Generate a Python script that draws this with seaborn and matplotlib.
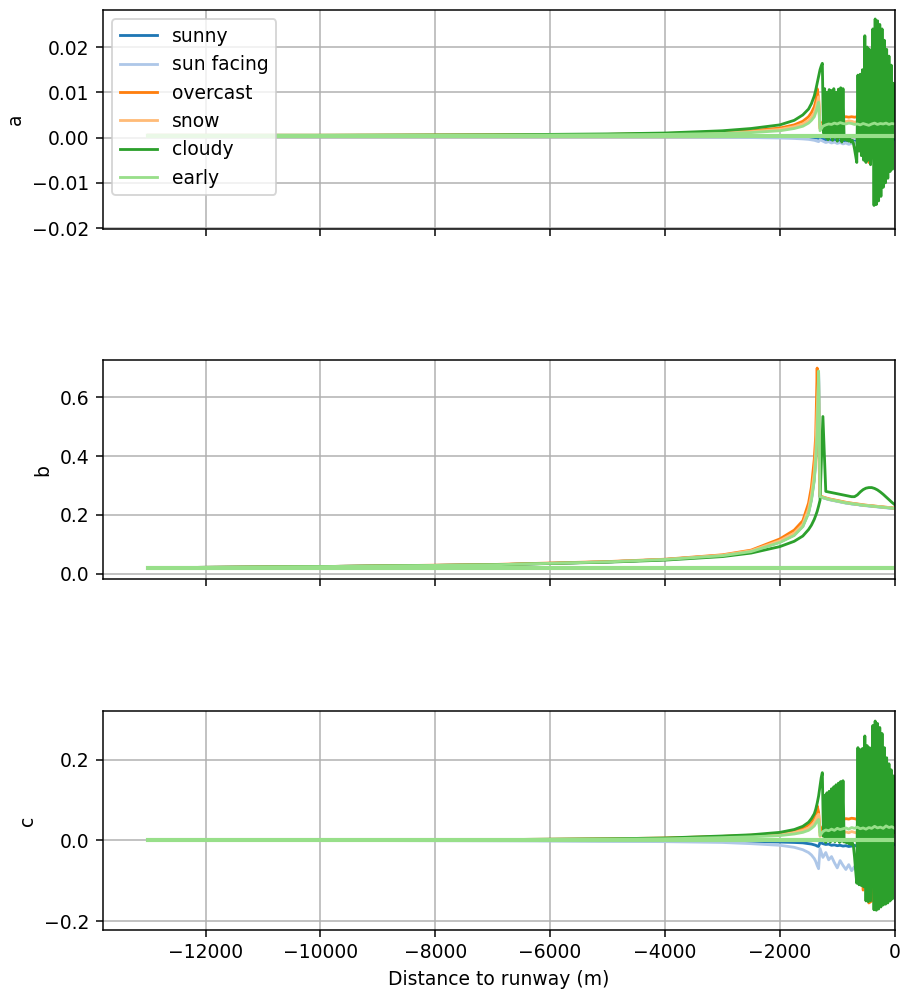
import numpy as np
import pandas as pd
import seaborn as sb
import matplotlib
matplotlib.use("Agg")
import matplotlib.pyplot as plt

scenarios = ["sunny", "sun facing", "overcast", "snow", "cloudy", "early"]
colors = sb.color_palette("tab20", 6)

# distance grid (m): coarse approach part, then 50 m steps over the last 1300 m
x_main = [-13000, -10000, -7000, -5000, -4000, -3000, -2500, -2000, -1750, -1600,
          -1500, -1450, -1400, -1375, -1350, -1325,
          -1300, -1250, -1200, -1150, -1100, -1050, -1000, -950, -900, -850,
          -800, -750, -700, -650, -600, -550, -500, -450, -400, -350,
          -300, -250, -200, -150, -100, -50, 0]
# finer grid for the cloudy oscillations near the runway
x_burst = list(range(-1300, 1, 20))
x_base = [-13000, 0]

# ---- panel a ----
a_sunny = [0.0004, 0.0004, 0.0004, 0.0004, 0.0004, 0.0003, 0.0003, 0.0002, 0.0002, 0.0001,
           0.0001, 0.0000, 0.0000, -0.0001, -0.0001, -0.0002,
           -0.0003, -0.0004, -0.0005, -0.0004, -0.0006, -0.0005, -0.0006, -0.0007, -0.0006, -0.0008,
           -0.0007, -0.0006, -0.0008, -0.0007, -0.0009, -0.0008, -0.0010, -0.0009, -0.0008, -0.0010,
           -0.0009, -0.0008, -0.0009, -0.0007, -0.0008, -0.0006, -0.0005]
a_sunfacing = [0.0004, 0.0004, 0.0003, 0.0003, 0.0002, 0.0001, 0.0000, -0.0001, -0.0002, -0.0003,
               -0.0004, -0.0005, -0.0006, -0.0007, -0.0008, -0.0009,
               -0.0005, -0.0008, -0.0011, -0.0009, -0.0012, -0.0010, -0.0013, -0.0011, -0.0014, -0.0012,
               -0.0015, -0.0013, -0.0011, -0.0014, -0.0012, -0.0015, -0.0013, -0.0016, -0.0012, -0.0015,
               -0.0013, -0.0016, -0.0014, -0.0012, -0.0015, -0.0013, -0.0010]
a_overcast = [0.0005, 0.0005, 0.0006, 0.0007, 0.0009, 0.0012, 0.0015, 0.0021, 0.0028, 0.0036,
              0.0046, 0.0055, 0.0068, 0.0080, 0.0108, 0.0085,
              0.0020, 0.0035, 0.0030, 0.0038, 0.0032, 0.0040, 0.0036, 0.0042, 0.0045, 0.0046,
              0.0045, 0.0046, 0.0045, 0.0046, 0.0044, 0.0044, 0.0030, -0.0055, -0.0045, 0.0010,
              0.0008, 0.0006, 0.0005, 0.0006, 0.0004, 0.0005, 0.0004]
a_snow = [0.0005, 0.0005, 0.0005, 0.0006, 0.0008, 0.0010, 0.0013, 0.0018, 0.0024, 0.0030,
          0.0038, 0.0045, 0.0055, 0.0065, 0.0078, 0.0090,
          0.0025, 0.0030, 0.0028, 0.0032, 0.0030, 0.0033, 0.0031, 0.0034, 0.0036, 0.0035,
          0.0037, 0.0036, 0.0034, 0.0035, 0.0033, 0.0030, 0.0025, 0.0020, 0.0028, 0.0030,
          0.0029, 0.0031, 0.0030, 0.0029, 0.0031, 0.0030, 0.0029]
a_early = [0.0005, 0.0005, 0.0005, 0.0006, 0.0007, 0.0009, 0.0011, 0.0015, 0.0020, 0.0025,
           0.0032, 0.0038, 0.0046, 0.0055, 0.0066, 0.0078,
           0.0015, 0.0025, 0.0028, 0.0030, 0.0029, 0.0032, 0.0030, 0.0033, 0.0031, 0.0030,
           0.0032, 0.0031, 0.0029, 0.0030, 0.0028, 0.0031, 0.0029, 0.0027, 0.0030, 0.0032,
           0.0029, 0.0031, 0.0030, 0.0032, 0.0029, 0.0031, 0.0030]
a_cloudy_far = [0.0005, 0.0005, 0.0006, 0.0008, 0.0010, 0.0015, 0.0020, 0.0028, 0.0038, 0.0050,
                0.0063, 0.0075, 0.0092, 0.0105, 0.0120, 0.0135]
a_cloudy_burst = [0.0150, 0.0158, 0.0164, 0.0010, 0.0108, 0.0000, 0.0100, -0.0005, 0.0106, 0.0002,
                  0.0104, -0.0006, 0.0108, 0.0001, 0.0100, -0.0008, 0.0107, 0.0000, 0.0110, -0.0010,
                  0.0108, -0.0004, 0.0002, -0.0006, 0.0000, -0.0008, -0.0003, -0.0010, -0.0006, -0.0012,
                  -0.0025, -0.0040, -0.0055, 0.0138, -0.0030, 0.0140, -0.0040, 0.0150, -0.0050, 0.0225,
                  -0.0055, 0.0200, -0.0050, 0.0195, -0.0060, 0.0010, 0.0240, -0.0150, 0.0262, -0.0148,
                  0.0258, -0.0140, 0.0250, -0.0130, 0.0240, -0.0110, 0.0215, -0.0100, 0.0195, -0.0090,
                  0.0180, -0.0075, 0.0160, -0.0070, 0.0120, 0.0030]
a_base = [0.0003, 0.0003]

# ---- panel b ----
b_sunny = [0.020, 0.024, 0.030, 0.040, 0.048, 0.062, 0.076, 0.108, 0.132, 0.162,
           0.210, 0.255, 0.325, 0.395, 0.495, 0.685,
           0.262, 0.259, 0.256, 0.253, 0.251, 0.249, 0.247, 0.245, 0.243, 0.241,
           0.240, 0.238, 0.237, 0.236, 0.234, 0.233, 0.232, 0.231, 0.230, 0.229,
           0.228, 0.227, 0.226, 0.225, 0.224, 0.223, 0.222]
b_sunfacing = [0.020, 0.024, 0.030, 0.040, 0.048, 0.062, 0.076, 0.107, 0.131, 0.161,
               0.208, 0.252, 0.320, 0.390, 0.490, 0.680,
               0.261, 0.258, 0.255, 0.252, 0.250, 0.248, 0.246, 0.244, 0.242, 0.240,
               0.239, 0.237, 0.236, 0.235, 0.233, 0.232, 0.231, 0.230, 0.229, 0.228,
               0.227, 0.226, 0.225, 0.224, 0.223, 0.222, 0.221]
b_overcast = [0.020, 0.024, 0.031, 0.041, 0.049, 0.064, 0.080, 0.118, 0.148, 0.180,
              0.240, 0.295, 0.390, 0.470, 0.700, 0.450,
              0.265, 0.261, 0.258, 0.255, 0.253, 0.251, 0.249, 0.247, 0.245, 0.243,
              0.241, 0.240, 0.238, 0.237, 0.236, 0.234, 0.233, 0.232, 0.231, 0.230,
              0.229, 0.228, 0.227, 0.226, 0.225, 0.224, 0.223]
b_snow = [0.020, 0.024, 0.030, 0.040, 0.048, 0.063, 0.078, 0.112, 0.138, 0.168,
          0.220, 0.268, 0.345, 0.420, 0.560, 0.660,
          0.263, 0.260, 0.257, 0.254, 0.252, 0.250, 0.248, 0.246, 0.244, 0.242,
          0.241, 0.239, 0.238, 0.237, 0.235, 0.234, 0.233, 0.232, 0.231, 0.230,
          0.229, 0.228, 0.227, 0.226, 0.225, 0.224, 0.223]
b_cloudy = [0.020, 0.024, 0.030, 0.039, 0.046, 0.058, 0.070, 0.092, 0.110, 0.128,
            0.150, 0.165, 0.185, 0.198, 0.212, 0.230,
            0.250, 0.535, 0.280, 0.278, 0.276, 0.274, 0.272, 0.270, 0.268, 0.266,
            0.264, 0.262, 0.262, 0.268, 0.278, 0.286, 0.291, 0.293, 0.293, 0.290,
            0.285, 0.278, 0.270, 0.261, 0.252, 0.243, 0.235]
b_early = [0.020, 0.024, 0.030, 0.040, 0.048, 0.061, 0.075, 0.106, 0.130, 0.160,
           0.205, 0.250, 0.318, 0.385, 0.480, 0.690,
           0.262, 0.259, 0.256, 0.253, 0.251, 0.249, 0.247, 0.245, 0.243, 0.241,
           0.240, 0.238, 0.237, 0.236, 0.234, 0.233, 0.232, 0.231, 0.230, 0.229,
           0.228, 0.227, 0.226, 0.225, 0.224, 0.223, 0.222]
b_base = [0.020, 0.020]

# ---- panel c ----
c_sunny = [0.000, 0.000, 0.000, -0.001, -0.001, -0.002, -0.003, -0.004, -0.005, -0.006,
           -0.008, -0.009, -0.011, -0.012, -0.014, -0.015,
           -0.005, -0.008, -0.010, -0.009, -0.012, -0.011, -0.013, -0.012, -0.014, -0.013,
           -0.015, -0.014, -0.012, -0.015, -0.013, -0.016, -0.014, -0.017, -0.015, -0.018,
           -0.016, -0.017, -0.015, -0.016, -0.014, -0.012, -0.010]
c_sunfacing = [0.000, 0.000, -0.001, -0.002, -0.003, -0.005, -0.008, -0.012, -0.017, -0.023,
               -0.030, -0.036, -0.045, -0.052, -0.062, -0.070,
               -0.020, -0.042, -0.030, -0.048, -0.040, -0.055, -0.068, -0.050, -0.062, -0.072,
               -0.060, -0.075, -0.065, -0.080, -0.070, -0.088, -0.075, -0.095, -0.085, -0.105,
               -0.090, -0.100, -0.085, -0.102, -0.090, -0.098, -0.080]
c_overcast = [0.000, 0.001, 0.002, 0.004, 0.006, 0.010, 0.013, 0.017, 0.024, 0.030,
              0.038, 0.045, 0.056, 0.065, 0.086, 0.070,
              0.020, 0.035, 0.030, 0.038, 0.034, 0.042, 0.046, 0.050, 0.052, 0.054,
              0.053, 0.055, 0.054, 0.052, 0.048, -0.123, 0.040, -0.155, -0.150, 0.030,
              0.028, 0.025, 0.027, 0.024, 0.026, 0.023, 0.022]
c_snow = [0.000, 0.001, 0.002, 0.003, 0.005, 0.008, 0.011, 0.014, 0.020, 0.025,
          0.031, 0.037, 0.045, 0.052, 0.060, 0.065,
          0.010, 0.015, 0.012, 0.016, 0.014, 0.018, 0.016, 0.020, 0.018, 0.021,
          0.019, 0.022, 0.020, 0.018, 0.015, 0.010, 0.012, 0.008, 0.015, 0.018,
          0.016, 0.019, 0.017, 0.020, 0.018, 0.019, 0.017]
c_early = [0.000, 0.001, 0.002, 0.003, 0.004, 0.007, 0.009, 0.012, 0.016, 0.020,
           0.025, 0.030, 0.036, 0.042, 0.048, 0.052,
           0.012, 0.022, 0.026, 0.024, 0.028, 0.025, 0.030, 0.027, 0.029, 0.031,
           0.028, 0.032, 0.030, 0.033, 0.029, 0.031, 0.028, 0.032, 0.030, 0.035,
           0.031, 0.033, 0.030, 0.036, 0.032, 0.034, 0.030]
c_cloudy_far = [0.000, 0.001, 0.002, 0.004, 0.006, 0.011, 0.014, 0.020, 0.027, 0.035,
                0.045, 0.054, 0.066, 0.077, 0.092, 0.110]
c_cloudy_burst = [0.135, 0.155, 0.168, 0.010, 0.112, -0.005, 0.118, 0.000, 0.122, -0.004,
                  0.128, 0.002, 0.133, -0.003, 0.138, 0.000, 0.142, -0.005, 0.146, -0.002,
                  0.148, -0.004, 0.002, -0.006, 0.000, -0.008, -0.002, -0.010, -0.005, -0.012,
                  -0.040, -0.075, -0.106, 0.230, -0.110, 0.225, -0.112, 0.228, -0.115, 0.259,
                  -0.150, 0.235, -0.152, 0.230, -0.150, 0.010, 0.285, -0.172, 0.296, -0.173,
                  0.290, -0.170, 0.280, -0.165, 0.265, -0.160, 0.230, -0.158, 0.205, -0.155,
                  0.190, -0.150, 0.175, -0.145, 0.160, 0.020]
c_base = [0.002, 0.002]

panels = [
    ("a", [a_sunny, a_sunfacing, a_overcast, a_snow, None, a_early],
     a_cloudy_far, a_cloudy_burst, a_base, (-0.0202, 0.0282)),
    ("b", [b_sunny, b_sunfacing, b_overcast, b_snow, b_cloudy, b_early],
     None, None, b_base, (-0.02, 0.726)),
    ("c", [c_sunny, c_sunfacing, c_overcast, c_snow, None, c_early],
     c_cloudy_far, c_cloudy_burst, c_base, (-0.222, 0.321)),
]

DPI = 135
fig, axes = plt.subplots(3, 1, figsize=(901 / DPI, 992 / DPI), dpi=DPI, sharex=True)
fig.subplots_adjust(left=0.114, right=0.993, top=0.990, bottom=0.0625, hspace=0.6)

for ax, (name, series, cl_far, cl_burst, base, ylim) in zip(axes, panels):
    for label, ys, col in zip(scenarios, series, colors):
        if ys is None:
            # cloudy: smooth approach + fine oscillating part
            xs = x_main[:16] + x_burst
            ys = cl_far + cl_burst
        else:
            xs = x_main
        sb.lineplot(x=xs, y=ys, color=col, label=label, lw=1.5,
                    estimator=None, sort=False, legend=False, ax=ax)
    sb.lineplot(x=x_base, y=base, color=colors[5], lw=2.2,
                estimator=None, sort=False, legend=False, ax=ax)
    ax.set_ylim(*ylim)
    ax.set_xlim(-13790, 0)
    ax.set_ylabel(name)
    ax.grid(True)

axes[0].legend(loc="upper left")
axes[2].set_xlabel("Distance to runway (m)")

plt.savefig("out.png", dpi=DPI)
